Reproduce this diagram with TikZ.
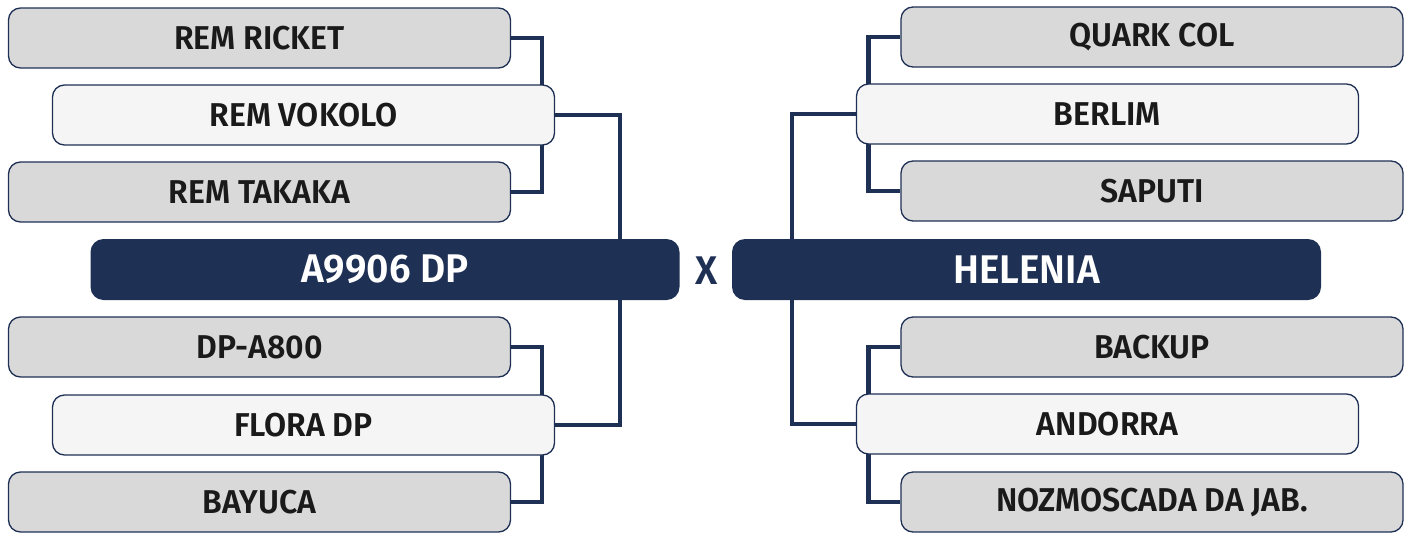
\documentclass[tikz,border=0pt]{standalone}
\usepackage{fontspec}
\setmainfont{Fira Sans}[FakeStretch=0.97, BoldFont={Fira Sans SemiBold}]
\usetikzlibrary{positioning}
\definecolor{navy}{HTML}{1F3055}
\definecolor{boxgray}{HTML}{D9D9D9}
\definecolor{boxlight}{HTML}{F5F5F5}
\definecolor{txt}{HTML}{1A1A1A}
\pgfdeclarelayer{background}
\pgfsetlayers{background,main}
\tikzset{
  team/.style={draw=navy, line width=1.3pt, rounded corners=12pt, minimum height=60pt,
    minimum width=502pt, inner sep=0pt, text=txt, font=\fontsize{33}{36}\selectfont\bfseries},
  outerbox/.style={team, fill=boxgray},
  midbox/.style={team, fill=boxlight},
  mainbox/.style={fill=navy, rounded corners=13pt, minimum height=61pt, minimum width=589pt,
    inner sep=0pt, text=white, font=\fontsize{40}{42}\selectfont\bfseries},
  conn/.style={draw=navy, line width=4.5pt},
}
\begin{document}
\begin{tikzpicture}[x=1pt,y=-1pt]
\useasboundingbox (0,0) rectangle (1412,533);
% left
\node[outerbox] (rricket) at (259.5,38) {REM RICKET};
\node[midbox]   (vokolo)  at (303.5,115) {REM VOKOLO};
\node[outerbox] (takaka)  at (259.5,192) {REM TAKAKA};
\node[mainbox]  (a9906)   at (385,269.5) {A9906 DP};
\node[outerbox] (dpa)     at (259.5,347) {DP-A800};
\node[midbox]   (flora)   at (303.5,425) {FLORA DP};
\node[outerbox] (bayuca)  at (259.5,502) {BAYUCA};
% right
\node[outerbox] (quark)   at (1152,37) {QUARK COL};
\node[midbox]   (berlim)  at (1107.5,114) {BERLIM};
\node[outerbox] (saputi)  at (1152,191) {SAPUTI};
\node[mainbox]  (helenia) at (1026.5,269.5) {HELENIA};
\node[outerbox] (backup)  at (1152,347) {BACKUP};
\node[midbox]   (andorra) at (1107.5,424) {ANDORRA};
\node[outerbox] (nozmo)   at (1152,502) {NOZMOSCADA DA JAB.};
\node[text=navy, font=\fontsize{40}{42}\selectfont\bfseries] (x) at (707,271) {X};
\begin{pgfonlayer}{background}
\draw[conn] (rricket.east) -- ++(31,0) |- (takaka.east);
\draw[conn] (dpa.east) -- ++(31,0) |- (bayuca.east);
\draw[conn] (vokolo.east) -- ++(65,0) |- (flora.east);
\draw[conn] (quark.west) -- ++(-32,0) |- (saputi.west);
\draw[conn] (backup.west) -- ++(-32,0) |- (nozmo.west);
\draw[conn] (berlim.west) -- ++(-64,0) |- (andorra.west);
\end{pgfonlayer}
\end{tikzpicture}
\end{document}
